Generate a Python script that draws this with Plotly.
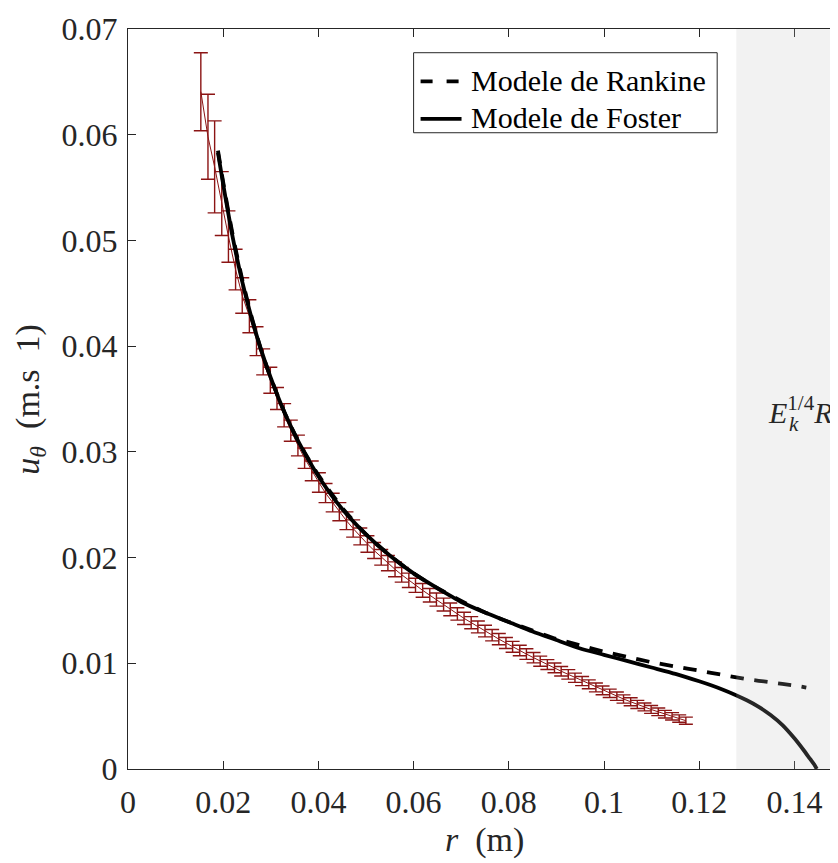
import plotly.graph_objects as go

# ---- measured data (r in m, u_theta in m/s) ----
r_data = [0.0153, 0.0168, 0.0182, 0.0197, 0.0211, 0.0226, 0.0240, 0.0255, 0.0270, 0.0284,
          0.0299, 0.0313, 0.0328, 0.0342, 0.0357, 0.0371, 0.0386, 0.0401, 0.0415, 0.0430,
          0.0444, 0.0459, 0.0473, 0.0488, 0.0503, 0.0517, 0.0532, 0.0546, 0.0561, 0.0575,
          0.0590, 0.0604, 0.0619, 0.0634, 0.0648, 0.0663, 0.0677, 0.0692, 0.0706, 0.0721,
          0.0735, 0.0750, 0.0765, 0.0779, 0.0794, 0.0808, 0.0823, 0.0837, 0.0852, 0.0866,
          0.0881, 0.0896, 0.0910, 0.0925, 0.0939, 0.0954, 0.0968, 0.0983, 0.0997, 0.1012,
          0.1027, 0.1041, 0.1056, 0.1070, 0.1085, 0.1099, 0.1114, 0.1128, 0.1143, 0.1158,
          0.1172]
u_data = [0.06407, 0.05981, 0.05696, 0.05349, 0.05037, 0.04724, 0.04479, 0.04283, 0.04047, 0.03851,
          0.03678, 0.03505, 0.03346, 0.03200, 0.03060, 0.02940, 0.02820, 0.02710, 0.02610, 0.02520,
          0.02434, 0.02348, 0.02275, 0.02200, 0.02129, 0.02067, 0.02003, 0.01947, 0.01889, 0.01837,
          0.01785, 0.01738, 0.01690, 0.01644, 0.01603, 0.01555, 0.01510, 0.01467, 0.01425, 0.01384,
          0.01344, 0.01305, 0.01266, 0.01229, 0.01192, 0.01156, 0.01121, 0.01087, 0.01053, 0.01020,
          0.00988, 0.00956, 0.00925, 0.00895, 0.00863, 0.00832, 0.00801, 0.00772, 0.00744, 0.00716,
          0.00689, 0.00662, 0.00636, 0.00611, 0.00587, 0.00563, 0.00541, 0.00519, 0.00498, 0.00477,
          0.00457]
u_err = [0.00369, 0.00402, 0.00435, 0.00302, 0.00243, 0.00192, 0.00168, 0.00156, 0.00137, 0.00123,
         0.00123, 0.00104, 0.00110, 0.00100, 0.00098, 0.00096, 0.00094, 0.00092, 0.00090, 0.00088,
         0.00086, 0.00084, 0.00082, 0.00080, 0.00078, 0.00076, 0.00074, 0.00072, 0.00070, 0.00069,
         0.00068, 0.00067, 0.00065, 0.00064, 0.00062, 0.00061, 0.00060, 0.00059, 0.00058, 0.00057,
         0.00056, 0.00055, 0.00054, 0.00053, 0.00052, 0.00051, 0.00050, 0.00050, 0.00049, 0.00048,
         0.00047, 0.00046, 0.00045, 0.00045, 0.00044, 0.00043, 0.00042, 0.00042, 0.00041, 0.00040,
         0.00040, 0.00039, 0.00038, 0.00038, 0.00037, 0.00037, 0.00036, 0.00036, 0.00035, 0.00035,
         0.00034]

# ---- Rankine model (dashed) ----
r_rankine = [0.0189, 0.0200, 0.0220, 0.0240, 0.0260, 0.0280, 0.0300, 0.0330, 0.0360, 0.0400,
             0.0450, 0.0500, 0.0550, 0.0600, 0.0650, 0.0700, 0.0750, 0.0800, 0.0850, 0.0900,
             0.0950, 0.1000, 0.1050, 0.1100, 0.1150, 0.1200, 0.1250, 0.1300, 0.1350, 0.1400,
             0.1425]
u_rankine = [0.0585, 0.0555, 0.0505, 0.0463, 0.0427, 0.0396, 0.0370, 0.0336, 0.0308, 0.0278,
             0.0247, 0.0222, 0.0202, 0.0185, 0.0171, 0.0159, 0.0148, 0.0139, 0.0131, 0.0123,
             0.0117, 0.0111, 0.0106, 0.0101, 0.0097, 0.0093, 0.0089, 0.0085, 0.0082, 0.0079,
             0.0077]

# ---- Foster model (solid) ----
r_foster = [0.0189, 0.0200, 0.0220, 0.0240, 0.0260, 0.0280, 0.0300, 0.0330, 0.0360, 0.0400,
            0.0450, 0.0500, 0.0550, 0.0600, 0.0650, 0.0700, 0.0750, 0.0800, 0.0850, 0.0900,
            0.0950, 0.1000, 0.1050, 0.1100, 0.1150, 0.1200, 0.1225, 0.1250, 0.1275, 0.1300,
            0.1325, 0.1350, 0.1375, 0.1400, 0.1420, 0.1433, 0.1442, 0.1447]
u_foster = [0.0583, 0.0553, 0.0503, 0.0461, 0.0426, 0.0396, 0.0370, 0.0336, 0.0308, 0.0277,
            0.0246, 0.0222, 0.0202, 0.0185, 0.0171, 0.0158, 0.0148, 0.0139, 0.0130, 0.0122,
            0.0114, 0.0108, 0.0102, 0.0096, 0.0090, 0.00830, 0.00792, 0.00750, 0.00703, 0.00650,
            0.00588, 0.00510, 0.00415, 0.00290, 0.00175, 0.00095, 0.00040, 0.0000]

ek_boundary = 0.1278
x_ticks = [0, 0.02, 0.04, 0.06, 0.08, 0.1, 0.12, 0.14]
y_ticks = [0, 0.01, 0.02, 0.03, 0.04, 0.05, 0.06, 0.07]
legend_names = ["Modele de Rankine", "Modele de Foster"]

FONT = "Liberation Serif"
AX = "#262626"
RED = "#8B1414"

# page pixel -> paper coordinates (page has an 8px body margin; plot area x 128..843, y 20..769)
def px(xp):
    return (xp - 128) / 715.0

def py(yp):
    return (769 - yp) / 749.0

fig = go.Figure()
fig.add_trace(go.Scatter(
    x=r_data, y=u_data, mode="lines", showlegend=False,
    line=dict(color=RED, width=1),
    error_y=dict(type="data", array=u_err, visible=True, color=RED, thickness=1.4, width=7)))
fig.add_trace(go.Scatter(
    x=r_rankine, y=u_rankine, mode="lines", name=legend_names[0], showlegend=False,
    line=dict(color="black", width=3.8, dash="13px,11px", shape="spline", smoothing=0.6)))
fig.add_trace(go.Scatter(
    x=r_foster, y=u_foster, mode="lines", name=legend_names[1], showlegend=False,
    line=dict(color="black", width=3.8, shape="spline", smoothing=0.6)))

# shaded Ekman region (drawn above lines, semi-transparent)
fig.add_shape(type="rect", xref="x", yref="y", x0=ek_boundary, x1=0.15, y0=0, y1=0.07,
              fillcolor="rgba(191,191,191,0.2)", line=dict(width=0), layer="above")

fig.add_annotation(x=0.13405, y=0.0340, xref="x", yref="y", xanchor="left", yanchor="middle",
                   text="<i>E</i><sup>1/4</sup><i>R</i>", showarrow=False,
                   font=dict(family=FONT, size=30, color=AX))
fig.add_annotation(x=0.1385, y=0.0326, xref="x", yref="y", xanchor="left", yanchor="middle",
                   text="<i>k</i>", showarrow=False,
                   font=dict(family=FONT, size=21, color=AX))

# axis titles
fig.add_annotation(x=px(485), y=py(841), xref="paper", yref="paper", xanchor="center", yanchor="middle",
                   text="<i>r</i>  (m)", showarrow=False, font=dict(family=FONT, size=34, color=AX))
fig.add_annotation(x=px(30), y=py(395), xref="paper", yref="paper", xanchor="center", yanchor="middle",
                   text="<i>u</i><sub><i>θ</i></sub>  (m.s  1)", textangle=-90, showarrow=False,
                   font=dict(family=FONT, size=34, color=AX))

# legend (box, line samples, labels)
fig.add_shape(type="rect", xref="paper", yref="paper", x0=px(414), x1=px(718), y0=py(125), y1=py(44),
              fillcolor="white", line=dict(color=AX, width=1), layer="above")
fig.add_shape(type="line", xref="paper", yref="paper", x0=px(421), x1=px(462), y0=py(73), y1=py(73),
              line=dict(color="black", width=3.8, dash="12px,14px"), layer="above")
fig.add_shape(type="line", xref="paper", yref="paper", x0=px(421), x1=px(462), y0=py(111), y1=py(111),
              line=dict(color="black", width=3.8), layer="above")
fig.add_annotation(x=px(469), y=py(72), xref="paper", yref="paper", xanchor="left", yanchor="middle",
                   text=legend_names[0], showarrow=False, font=dict(family=FONT, size=30, color="black"))
fig.add_annotation(x=px(469), y=py(110), xref="paper", yref="paper", xanchor="left", yanchor="middle",
                   text=legend_names[1], showarrow=False, font=dict(family=FONT, size=30, color="black"))

axis_common = dict(showgrid=False, zeroline=False, ticks="inside", ticklen=8, tickwidth=1,
                   tickcolor=AX, linecolor=AX, linewidth=1, showline=True, mirror="ticks",
                   ticklabeloverflow="allow",
                   tickfont=dict(family=FONT, size=32, color=AX))

fig.update_layout(
    width=838, height=863,
    margin=dict(l=120, r=3, t=12, b=102),
    paper_bgcolor="white", plot_bgcolor="white",
    font=dict(family=FONT, color=AX),
    showlegend=False,
    xaxis=dict(range=[0, 0.15], tickvals=x_ticks, ticktext=[str(v) for v in x_ticks],
               ticklabelstandoff=5, **axis_common),
    yaxis=dict(range=[0, 0.07], tickvals=y_ticks, ticktext=[str(v) for v in y_ticks],
               ticklabelstandoff=3, **axis_common),
)
fig.write_html("out.html")
